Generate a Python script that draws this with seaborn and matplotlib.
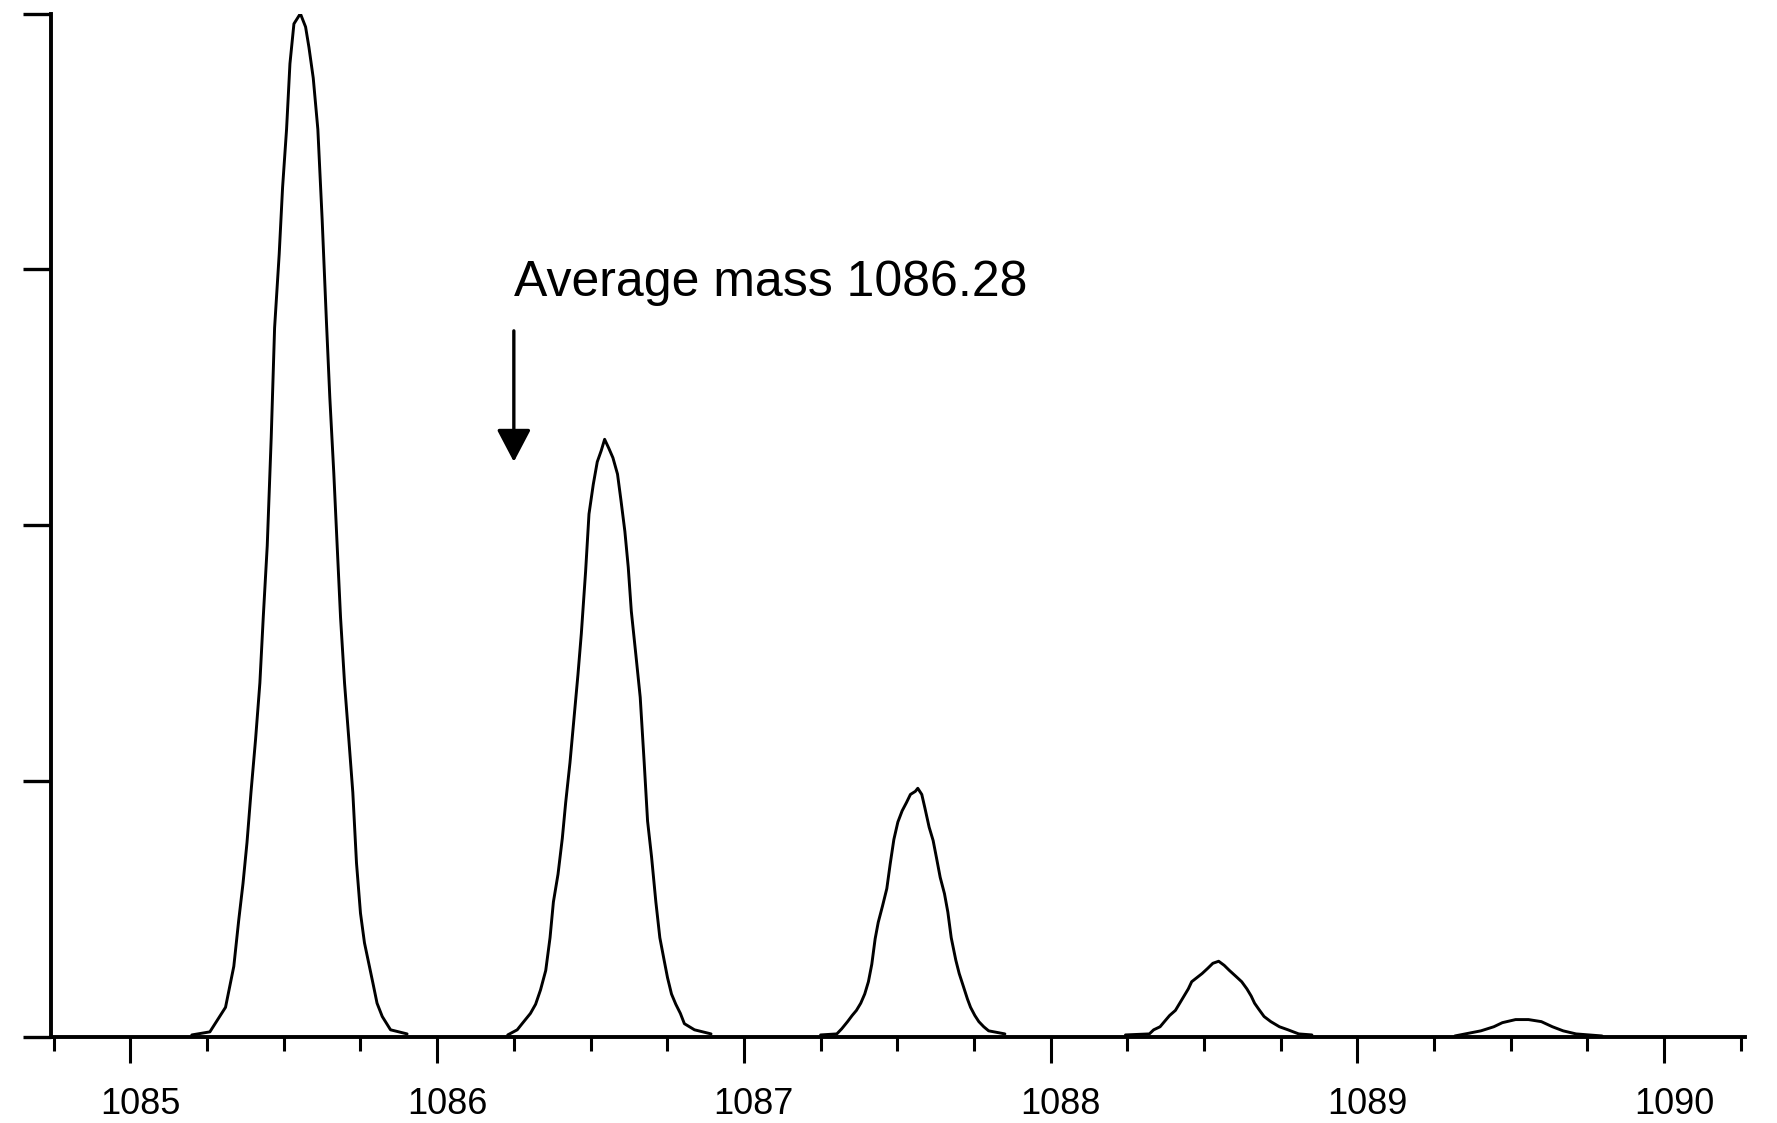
import numpy as np
import pandas as pd
import matplotlib
matplotlib.use('Agg')
import matplotlib.pyplot as plt
import matplotlib.transforms as mtransforms
import seaborn as sns

# isotope peaks (m/z, relative intensity %)
peak1_mz = [1085.20, 1085.259, 1085.310, 1085.337, 1085.353, 1085.367, 1085.380, 1085.393, 1085.408,
            1085.422, 1085.433, 1085.446, 1085.459, 1085.470, 1085.485, 1085.496, 1085.509,
            1085.520, 1085.533, 1085.554, 1085.571, 1085.582, 1085.596, 1085.611, 1085.625,
            1085.639, 1085.650, 1085.663, 1085.674, 1085.685, 1085.698, 1085.712, 1085.725,
            1085.737, 1085.750, 1085.763, 1085.777, 1085.791, 1085.804, 1085.821, 1085.848, 1085.902]
peak1_int = [0.2, 0.5, 2.9, 6.9, 11.4, 15.0, 19.0, 23.9, 29.1, 34.6, 41.0, 48.0, 58.6, 69.3, 76.5,
             83.0, 88.7, 95.1, 99.0, 100.0, 98.7, 96.7, 93.7, 88.7, 79.9, 69.9, 62.5, 55.1,
             48.0, 41.0, 34.6, 29.1, 23.9, 17.0, 12.1, 9.2, 7.2, 5.2, 3.3, 2.0, 0.7, 0.3]

peak2_mz = [1086.23, 1086.261, 1086.277, 1086.304, 1086.321, 1086.337, 1086.354, 1086.368, 1086.379,
            1086.394, 1086.408, 1086.419, 1086.433, 1086.446, 1086.459, 1086.470, 1086.484,
            1086.495, 1086.509, 1086.522, 1086.535, 1086.546, 1086.560, 1086.573, 1086.588,
            1086.599, 1086.612, 1086.623, 1086.633, 1086.648, 1086.662, 1086.675, 1086.686,
            1086.699, 1086.713, 1086.726, 1086.740, 1086.751, 1086.764, 1086.778, 1086.793,
            1086.806, 1086.839, 1086.893]
peak2_int = [0.2, 0.7, 1.3, 2.3, 3.2, 4.6, 6.5, 9.7, 13.2, 15.9, 19.4, 22.9, 26.8, 31.1, 35.4,
             39.4, 45.5, 51.1, 54.0, 56.2, 57.3, 58.4, 57.5, 56.6, 55.0, 52.5, 49.4, 45.9,
             41.6, 37.3, 33.2, 26.8, 21.1, 17.6, 13.2, 9.7, 7.5, 5.8, 4.2, 3.2, 2.3, 1.3,
             0.7, 0.3]

peak3_mz = [1087.25, 1087.303, 1087.319, 1087.338, 1087.353, 1087.367, 1087.381, 1087.394, 1087.406,
            1087.417, 1087.428, 1087.438, 1087.452, 1087.466, 1087.477, 1087.489, 1087.502,
            1087.516, 1087.530, 1087.543, 1087.559, 1087.567, 1087.580, 1087.590, 1087.604,
            1087.617, 1087.628, 1087.640, 1087.654, 1087.665, 1087.676, 1087.691, 1087.702,
            1087.715, 1087.729, 1087.739, 1087.753, 1087.766, 1087.782, 1087.798, 1087.851]
peak3_int = [0.2, 0.3, 0.8, 1.5, 2.1, 2.6, 3.3, 4.2, 5.4, 7.1, 9.6, 11.2, 12.8, 14.5, 16.9, 19.3,
             21.0, 22.1, 22.9, 23.7, 24.0, 24.3, 23.7, 22.4, 20.5, 19.2, 17.5, 15.6, 14.0,
             12.2, 9.7, 7.5, 6.2, 5.0, 3.7, 2.9, 2.1, 1.5, 1.0, 0.6, 0.3]

peak4_mz = [1088.244, 1088.322, 1088.336, 1088.357, 1088.371, 1088.388, 1088.407, 1088.421, 1088.435,
            1088.449, 1088.460, 1088.477, 1088.494, 1088.512, 1088.529, 1088.548, 1088.566,
            1088.583, 1088.605, 1088.623, 1088.640, 1088.654, 1088.665, 1088.679, 1088.696,
            1088.718, 1088.746, 1088.774, 1088.809, 1088.852]
peak4_int = [0.2, 0.3, 0.7, 1.0, 1.5, 2.1, 2.6, 3.3, 4.0, 4.7, 5.4, 5.8, 6.2, 6.7, 7.2, 7.4, 7.0,
             6.5, 5.9, 5.4, 4.7, 4.0, 3.3, 2.7, 2.0, 1.5, 1.0, 0.7, 0.3, 0.2]

peak5_mz = [1089.318, 1089.403, 1089.445, 1089.473, 1089.516, 1089.558, 1089.600, 1089.636,
            1089.671, 1089.713, 1089.798]
peak5_int = [0.1, 0.6, 1.0, 1.4, 1.7, 1.7, 1.5, 1.0, 0.6, 0.3, 0.1]

avg_mass = 1086.25
avg_label = 'Average mass 1086.28'
x_ticks = [1085, 1086, 1087, 1088, 1089, 1090]

peaks = [(peak1_mz, peak1_int), (peak2_mz, peak2_int), (peak3_mz, peak3_int),
         (peak4_mz, peak4_int), (peak5_mz, peak5_int)]
df = pd.concat([pd.DataFrame({'mz': m, 'intensity': i, 'peak': n})
                for n, (m, i) in enumerate(peaks)], ignore_index=True)

sns.set_style('ticks')
plt.rcParams['font.family'] = ['Liberation Sans', 'DejaVu Sans']
plt.rcParams['text.color'] = 'black'
plt.rcParams['xtick.color'] = 'black'
plt.rcParams['ytick.color'] = 'black'

fig = plt.figure(figsize=(17.77, 11.23), dpi=100)
ax = fig.add_axes([0.0287, 0.0766, 0.9533, 0.9113])

sns.lineplot(data=df, x='mz', y='intensity', units='peak', estimator=None, sort=False,
             color='black', linewidth=2.1, ax=ax)

ax.set_xlim(1084.741, 1090.264)
ax.set_ylim(0, 100)
ax.set_xticks(x_ticks)
ax.set_xticks(np.arange(1084.75, 1090.3, 0.25), minor=True)
ax.set_yticks([0, 25, 50, 75, 100])
ax.set_yticklabels([])
ax.tick_params(axis='x', which='major', length=19, width=2.2, direction='out',
               labelsize=26, pad=17, labelcolor='black')
ax.tick_params(axis='x', which='minor', length=10, width=2.2, direction='out')
ax.tick_params(axis='y', length=20, width=2.4, direction='out')
ax.set_xlabel('')
ax.set_ylabel('')
sns.despine(ax=ax)
for s in ['left', 'bottom']:
    ax.spines[s].set_linewidth(2.8)
    ax.spines[s].set_color('black')

# labels in the original sit a little right of their ticks
shift = mtransforms.ScaledTranslation(0.10, 0, fig.dpi_scale_trans)
for lbl in ax.get_xticklabels():
    lbl.set_transform(lbl.get_transform() + shift)

# average mass marker
ax.annotate('', xy=(avg_mass, 56.2), xytext=(avg_mass, 69.0),
            arrowprops=dict(arrowstyle='-|>,head_width=1.05,head_length=2.0',
                            mutation_scale=10, color='black', lw=2.4,
                            shrinkA=0, shrinkB=0))
ax.text(avg_mass, 72.4, avg_label, fontsize=36, ha='left', va='baseline', color='black')

fig.savefig('out.png', dpi=100)
